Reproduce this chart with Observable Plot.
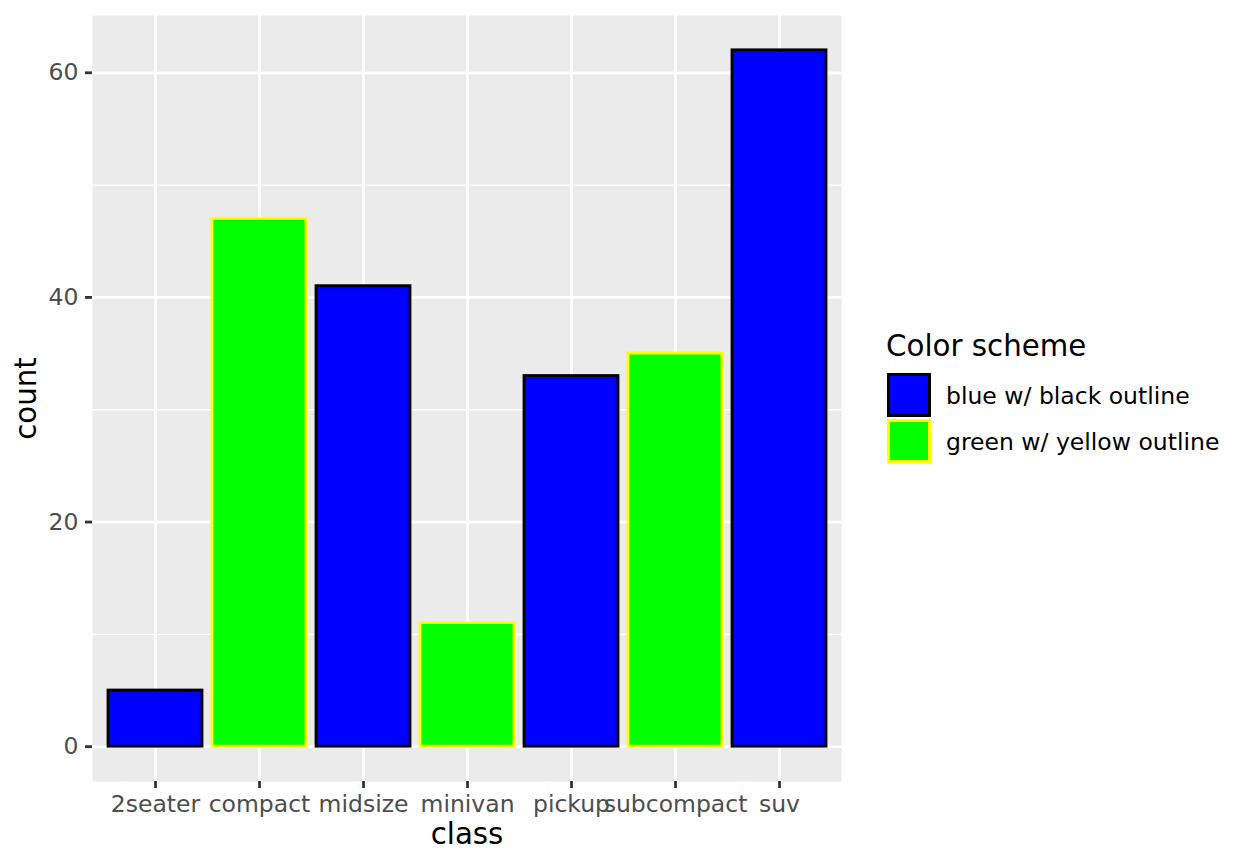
<!DOCTYPE html>
<html>
<head>
<meta charset="utf-8">
<script src="https://cdn.jsdelivr.net/npm/d3@7"></script>
<script src="https://cdn.jsdelivr.net/npm/@observablehq/plot@0.6"></script>
<style>
  body { margin: 0; background: white; font-family: "DejaVu Sans", sans-serif; }
  #wrap { position: relative; width: 1248px; height: 865px; }
  #legend { position: absolute; left: 0; top: 0; }
  .leg-title { position: absolute; left: 886px; top: 332px; font-size: 29.3px; line-height: 1; color: black; white-space: nowrap; }
  .leg-key { position: absolute; left: 887px; width: 38px; height: 38px; border-width: 3px; border-style: solid; }
  .leg-label { position: absolute; left: 946px; font-size: 23.5px; line-height: 1; color: black; white-space: nowrap; }
</style>
</head>
<body>
<div id="wrap">
  <div id="chart"></div>
  <div id="legend"></div>
</div>
<script>
// mpg: number of cars per class
const classes = ["2seater", "compact", "midsize", "minivan", "pickup", "subcompact", "suv"];
const counts = [5, 47, 41, 11, 33, 35, 62];
const schemeOf = [
  "blue w/ black outline", "green w/ yellow outline", "blue w/ black outline",
  "green w/ yellow outline", "blue w/ black outline", "green w/ yellow outline",
  "blue w/ black outline"
];

// legend entries
const schemeNames = ["blue w/ black outline", "green w/ yellow outline"];
const schemeFills = ["blue", "#00FF00"];
const schemeStrokes = ["black", "yellow"];

const majorTicks = [0, 20, 40, 60];
const minorTicks = [10, 30, 50];

const data = classes.map((c, i) => ({cls: c, count: counts[i], scheme: schemeOf[i]}));
const fillFor = s => schemeFills[schemeNames.indexOf(s)];
const strokeFor = s => schemeStrokes[schemeNames.indexOf(s)];

const chart = Plot.plot({
  width: 1248,
  height: 865,
  marginLeft: 92,
  marginRight: 407,
  marginTop: 15,
  marginBottom: 84,
  style: {fontFamily: "DejaVu Sans", background: "white"},
  x: {type: "band", domain: classes, paddingInner: 0.1, paddingOuter: 0.15, align: 0.5},
  y: {domain: [-3.1, 65.1]},
  marks: [
    Plot.frame({fill: "#EBEBEB", stroke: "none"}),
    Plot.gridY({ticks: minorTicks, stroke: "white", strokeOpacity: 1, strokeWidth: 1.4}),
    Plot.gridY({ticks: majorTicks, stroke: "white", strokeOpacity: 1, strokeWidth: 2.8}),
    Plot.gridX({stroke: "white", strokeOpacity: 1, strokeWidth: 2.8}),
    Plot.barY(data, {
      x: "cls",
      y: "count",
      inset: 0,
      fill: d => fillFor(d.scheme),
      stroke: d => strokeFor(d.scheme),
      strokeWidth: 2.8
    }),
    Plot.axisY({
      ticks: majorTicks,
      tickSize: 7,
      tickPadding: 7,
      stroke: "#333333",
      strokeWidth: 2.8,
      fill: "#4D4D4D",
      fontSize: 23.5,
      label: null
    }),
    Plot.axisX({
      tickSize: 7,
      tickPadding: 6.5,
      stroke: "#333333",
      strokeWidth: 2.8,
      fill: "#4D4D4D",
      fontSize: 23.5,
      label: null
    }),
    // axis titles
    Plot.text(["count"], {
      frameAnchor: "left",
      textAnchor: "middle",
      lineAnchor: "middle",
      rotate: -90,
      dx: -66,
      fontSize: 29.3,
      fill: "black"
    }),
    Plot.text(["class"], {
      frameAnchor: "bottom",
      textAnchor: "middle",
      lineAnchor: "middle",
      dy: 53,
      fontSize: 29.3,
      fill: "black"
    })
  ]
});
document.getElementById("chart").appendChild(chart);

// legend on the right
const legend = document.getElementById("legend");
const title = document.createElement("div");
title.className = "leg-title";
title.textContent = "Color scheme";
legend.appendChild(title);
schemeNames.forEach((name, i) => {
  const key = document.createElement("div");
  key.className = "leg-key";
  key.style.top = (373 + i * 46) + "px";
  key.style.background = schemeFills[i];
  key.style.borderColor = schemeStrokes[i];
  legend.appendChild(key);
  const label = document.createElement("div");
  label.className = "leg-label";
  label.style.top = (385 + i * 46) + "px";
  label.textContent = name;
  legend.appendChild(label);
});
</script>
</body>
</html>
